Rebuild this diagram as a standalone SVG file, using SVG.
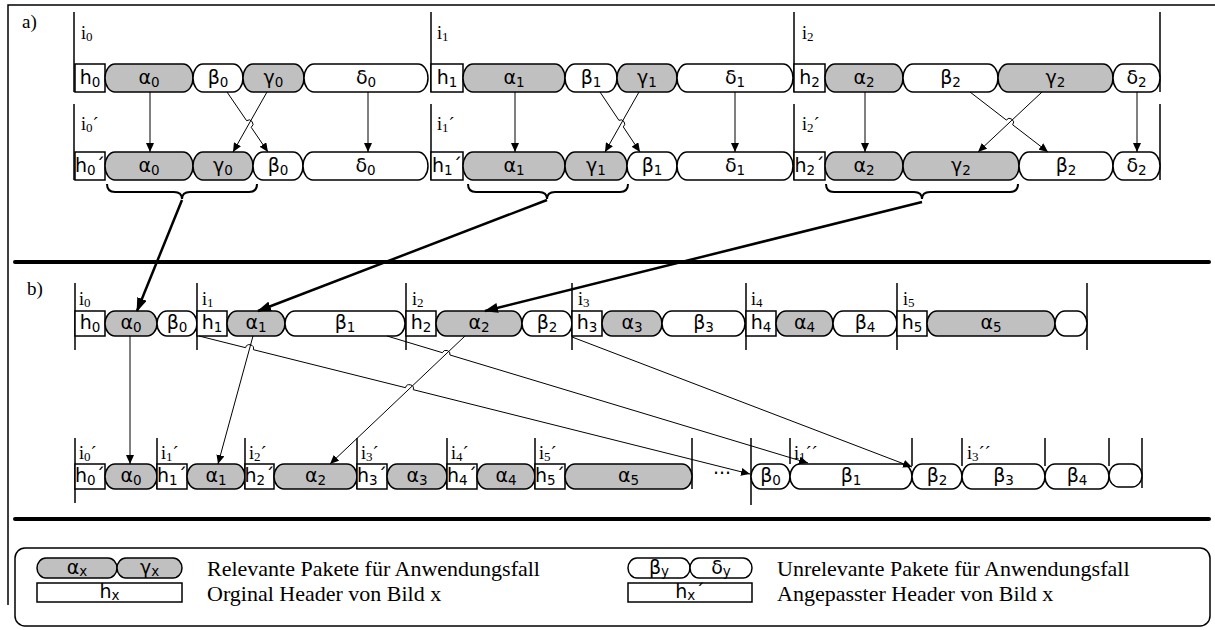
<svg xmlns="http://www.w3.org/2000/svg" width="1215" height="630" viewBox="0 0 1215 630">
  <style>
    .pr { fill: #c0c0c0; stroke: #000; stroke-width: 1.5; }
    .pu { fill: #fff; stroke: #000; stroke-width: 1.5; }
    .hd { fill: #fff; stroke: #000; stroke-width: 1.5; }
    .vl { stroke: #000; stroke-width: 1.5; fill: none; }
    .lbl { font-family: "DejaVu Sans", sans-serif; font-size: 19px; text-anchor: middle; fill: #000; }
    .sub { font-size: 13.5px; }
    .il { font-family: "Liberation Serif", serif; font-size: 18px; fill: #000; }
    .isub { font-size: 13px; }
    .sec { font-family: "Liberation Serif", serif; font-size: 19px; fill: #000; }
    .leg { font-family: "Liberation Serif", serif; font-size: 22px; fill: #000; }
    .cn { stroke: #000; stroke-width: 1; fill: none; }
    .tk { stroke: #000; stroke-width: 2.5; fill: none; }
    .br { stroke: #000; stroke-width: 2; fill: none; }
    .sep { stroke: #000; stroke-width: 4; stroke-linecap: round; }
  </style>
  <defs>
    <marker id="ah" markerUnits="userSpaceOnUse" markerWidth="9" markerHeight="8" refX="9" refY="4" orient="auto">
      <path d="M0,0 L9,4 L0,8 z" fill="#000"/>
    </marker>
    <marker id="ahk" markerUnits="userSpaceOnUse" markerWidth="14" markerHeight="10" refX="13" refY="5" orient="auto">
      <path d="M0,0 L14,5 L0,10 z" fill="#000"/>
    </marker>
  </defs>

  <rect width="1215" height="630" fill="#fff"/>

  <!-- frame and separators -->
  <g id="frame">
    <path class="vl" d="M8,605 V5 H1215" stroke-width="1.2"/>
    <line class="sep" x1="15" y1="262" x2="1209" y2="262"/>
    <line class="sep" x1="15" y1="519" x2="1209" y2="519"/>
    <text class="sec" x="22" y="28">a)</text>
    <text class="sec" x="27" y="295">b)</text>
  </g>

  <!-- part a: image boundaries -->
  <g id="a-bounds">
    <path class="vl" d="M74,12 V92 M431,12 V92 M794,12 V92 M1160,12 V92"/>
    <path class="vl" d="M74,104 V180 M431,104 V180 M794,104 V180 M1160,104 V180"/>
    <text class="il" x="81" y="39">i<tspan class="isub" dy="2">0</tspan></text>
    <text class="il" x="437" y="39">i<tspan class="isub" dy="2">1</tspan></text>
    <text class="il" x="802" y="39">i<tspan class="isub" dy="2">2</tspan></text>
    <text class="il" x="81" y="130">i<tspan class="isub" dy="2">0</tspan><tspan dy="-2">´</tspan></text>
    <text class="il" x="437" y="130">i<tspan class="isub" dy="2">1</tspan><tspan dy="-2">´</tspan></text>
    <text class="il" x="802" y="130">i<tspan class="isub" dy="2">2</tspan><tspan dy="-2">´</tspan></text>
  </g>

  <!-- part a, original stream -->
  <g id="a1-h0"><rect class="hd" x="75" y="64" width="30" height="28"/><text class="lbl" x="90" y="84">h<tspan class="sub" dy="3">0</tspan></text></g>
  <g id="a1-alpha0"><rect class="pr" x="105" y="64" width="88" height="28" rx="10" ry="14"/><text class="lbl" x="149" y="84">α<tspan class="sub" dy="3">0</tspan></text></g>
  <g id="a1-beta0"><rect class="pu" x="193" y="64" width="50" height="28" rx="10" ry="14"/><text class="lbl" x="218" y="84">β<tspan class="sub" dy="3">0</tspan></text></g>
  <g id="a1-gamma0"><rect class="pr" x="243" y="64" width="61" height="28" rx="10" ry="14"/><text class="lbl" x="273.5" y="84">γ<tspan class="sub" dy="3">0</tspan></text></g>
  <g id="a1-delta0"><rect class="pu" x="304" y="64" width="124" height="28" rx="10" ry="14"/><text class="lbl" x="366" y="84">δ<tspan class="sub" dy="3">0</tspan></text></g>
  <g id="a1-h1"><rect class="hd" x="431" y="64" width="32" height="28"/><text class="lbl" x="447" y="84">h<tspan class="sub" dy="3">1</tspan></text></g>
  <g id="a1-alpha1"><rect class="pr" x="463" y="64" width="102" height="28" rx="10" ry="14"/><text class="lbl" x="514" y="84">α<tspan class="sub" dy="3">1</tspan></text></g>
  <g id="a1-beta1"><rect class="pu" x="565" y="64" width="52" height="28" rx="10" ry="14"/><text class="lbl" x="591" y="84">β<tspan class="sub" dy="3">1</tspan></text></g>
  <g id="a1-gamma1"><rect class="pr" x="617" y="64" width="60" height="28" rx="10" ry="14"/><text class="lbl" x="647" y="84">γ<tspan class="sub" dy="3">1</tspan></text></g>
  <g id="a1-delta1"><rect class="pu" x="677" y="64" width="116" height="28" rx="10" ry="14"/><text class="lbl" x="735" y="84">δ<tspan class="sub" dy="3">1</tspan></text></g>
  <g id="a1-h2"><rect class="hd" x="794" y="64" width="31" height="28"/><text class="lbl" x="809.5" y="84">h<tspan class="sub" dy="3">2</tspan></text></g>
  <g id="a1-alpha2"><rect class="pr" x="825" y="64" width="78" height="28" rx="10" ry="14"/><text class="lbl" x="864" y="84">α<tspan class="sub" dy="3">2</tspan></text></g>
  <g id="a1-beta2"><rect class="pu" x="903" y="64" width="95" height="28" rx="10" ry="14"/><text class="lbl" x="950.5" y="84">β<tspan class="sub" dy="3">2</tspan></text></g>
  <g id="a1-gamma2"><rect class="pr" x="998" y="64" width="115" height="28" rx="10" ry="14"/><text class="lbl" x="1055.5" y="84">γ<tspan class="sub" dy="3">2</tspan></text></g>
  <g id="a1-delta2"><rect class="pu" x="1113" y="64" width="47" height="28" rx="10" ry="14"/><text class="lbl" x="1136.5" y="84">δ<tspan class="sub" dy="3">2</tspan></text></g>

  <!-- part a, reordered stream -->
  <g id="a2-h0"><rect class="hd" x="75" y="152" width="30" height="28"/><text class="lbl" x="90" y="172">h<tspan class="sub" dy="3">0</tspan><tspan dy="-3">´</tspan></text></g>
  <g id="a2-alpha0"><rect class="pr" x="105" y="152" width="88" height="28" rx="10" ry="14"/><text class="lbl" x="149" y="172">α<tspan class="sub" dy="3">0</tspan></text></g>
  <g id="a2-gamma0"><rect class="pr" x="193" y="152" width="60" height="28" rx="10" ry="14"/><text class="lbl" x="223" y="172">γ<tspan class="sub" dy="3">0</tspan></text></g>
  <g id="a2-beta0"><rect class="pu" x="253" y="152" width="50" height="28" rx="10" ry="14"/><text class="lbl" x="278" y="172">β<tspan class="sub" dy="3">0</tspan></text></g>
  <g id="a2-delta0"><rect class="pu" x="303" y="152" width="125" height="28" rx="10" ry="14"/><text class="lbl" x="365.5" y="172">δ<tspan class="sub" dy="3">0</tspan></text></g>
  <g id="a2-h1"><rect class="hd" x="431" y="152" width="32" height="28"/><text class="lbl" x="447" y="172">h<tspan class="sub" dy="3">1</tspan><tspan dy="-3">´</tspan></text></g>
  <g id="a2-alpha1"><rect class="pr" x="463" y="152" width="102" height="28" rx="10" ry="14"/><text class="lbl" x="514" y="172">α<tspan class="sub" dy="3">1</tspan></text></g>
  <g id="a2-gamma1"><rect class="pr" x="565" y="152" width="62" height="28" rx="10" ry="14"/><text class="lbl" x="596" y="172">γ<tspan class="sub" dy="3">1</tspan></text></g>
  <g id="a2-beta1"><rect class="pu" x="627" y="152" width="50" height="28" rx="10" ry="14"/><text class="lbl" x="652" y="172">β<tspan class="sub" dy="3">1</tspan></text></g>
  <g id="a2-delta1"><rect class="pu" x="677" y="152" width="116" height="28" rx="10" ry="14"/><text class="lbl" x="735" y="172">δ<tspan class="sub" dy="3">1</tspan></text></g>
  <g id="a2-h2"><rect class="hd" x="794" y="152" width="31" height="28"/><text class="lbl" x="809.5" y="172">h<tspan class="sub" dy="3">2</tspan><tspan dy="-3">´</tspan></text></g>
  <g id="a2-alpha2"><rect class="pr" x="825" y="152" width="78" height="28" rx="10" ry="14"/><text class="lbl" x="864" y="172">α<tspan class="sub" dy="3">2</tspan></text></g>
  <g id="a2-gamma2"><rect class="pr" x="903" y="152" width="116" height="28" rx="10" ry="14"/><text class="lbl" x="961" y="172">γ<tspan class="sub" dy="3">2</tspan></text></g>
  <g id="a2-beta2"><rect class="pu" x="1019" y="152" width="94" height="28" rx="10" ry="14"/><text class="lbl" x="1066" y="172">β<tspan class="sub" dy="3">2</tspan></text></g>
  <g id="a2-delta2"><rect class="pu" x="1113" y="152" width="47" height="28" rx="10" ry="14"/><text class="lbl" x="1136.5" y="172">δ<tspan class="sub" dy="3">2</tspan></text></g>

  <!-- braces grouping the relevant packets -->
  <g id="braces">
    <path class="br" d="M107,184 q0,8 8,8 H174 q8,0 8,7 q0,-7 8,-7 H249 q8,0 8,-8"/>
    <path class="br" d="M468,184 q0,8 8,8 H539 q8,0 8,7 q0,-7 8,-7 H620 q8,0 8,-8"/>
    <path class="br" d="M826,184 q0,8 8,8 H914 q8,0 8,7 q0,-7 8,-7 H1010 q8,0 8,-8"/>
  </g>

  <!-- part b: image boundaries -->
  <g id="b-bounds">
    <path class="vl" d="M75,283 V350 M197,283 V350 M406,283 V350 M572,283 V350 M746,283 V350 M897,283 V350 M1087,283 V350"/>
    <text class="il" x="79" y="305">i<tspan class="isub" dy="2">0</tspan></text>
    <text class="il" x="202" y="305">i<tspan class="isub" dy="2">1</tspan></text>
    <text class="il" x="412" y="305">i<tspan class="isub" dy="2">2</tspan></text>
    <text class="il" x="578" y="305">i<tspan class="isub" dy="2">3</tspan></text>
    <text class="il" x="751" y="305">i<tspan class="isub" dy="2">4</tspan></text>
    <text class="il" x="903" y="305">i<tspan class="isub" dy="2">5</tspan></text>

    <path class="vl" d="M75,438 V503 M157,438 V489 M245,438 V489 M357,438 V489 M447,438 V489 M535,438 V489 M692,438 V489"/>
    <path class="vl" d="M751,438 V505 M790,438 V464 M912,438 V466 M962,438 V466 M1045,438 V466 M1109,438 V466 M1142,438 V488"/>
    <text class="il" x="79" y="459">i<tspan class="isub" dy="2">0</tspan><tspan dy="-2">´</tspan></text>
    <text class="il" x="161" y="459">i<tspan class="isub" dy="2">1</tspan><tspan dy="-2">´</tspan></text>
    <text class="il" x="249" y="459">i<tspan class="isub" dy="2">2</tspan><tspan dy="-2">´</tspan></text>
    <text class="il" x="361" y="459">i<tspan class="isub" dy="2">3</tspan><tspan dy="-2">´</tspan></text>
    <text class="il" x="451" y="459">i<tspan class="isub" dy="2">4</tspan><tspan dy="-2">´</tspan></text>
    <text class="il" x="539" y="459">i<tspan class="isub" dy="2">5</tspan><tspan dy="-2">´</tspan></text>
    <text class="il" x="794" y="459">i<tspan class="isub" dy="2">1</tspan><tspan dy="-2">´´</tspan></text>
    <text class="il" x="967" y="459">i<tspan class="isub" dy="2">3</tspan><tspan dy="-2">´´</tspan></text>
    <text class="lbl" x="722" y="480" font-size="13">···</text>
  </g>

  <!-- part b, received stream -->
  <g id="b1-h0"><rect class="hd" x="75" y="311" width="30" height="25"/><text class="lbl" x="90" y="329">h<tspan class="sub" dy="3">0</tspan></text></g>
  <g id="b1-alpha0"><rect class="pr" x="105" y="311" width="52" height="25" rx="10" ry="12.5"/><text class="lbl" x="131" y="329">α<tspan class="sub" dy="3">0</tspan></text></g>
  <g id="b1-beta0"><rect class="pu" x="157" y="311" width="40" height="25" rx="10" ry="12.5"/><text class="lbl" x="177" y="329">β<tspan class="sub" dy="3">0</tspan></text></g>
  <g id="b1-h1"><rect class="hd" x="197" y="311" width="30" height="25"/><text class="lbl" x="212" y="329">h<tspan class="sub" dy="3">1</tspan></text></g>
  <g id="b1-alpha1"><rect class="pr" x="227" y="311" width="58" height="25" rx="10" ry="12.5"/><text class="lbl" x="256" y="329">α<tspan class="sub" dy="3">1</tspan></text></g>
  <g id="b1-beta1"><rect class="pu" x="285" y="311" width="120" height="25" rx="10" ry="12.5"/><text class="lbl" x="345" y="329">β<tspan class="sub" dy="3">1</tspan></text></g>
  <g id="b1-h2"><rect class="hd" x="406" y="311" width="30" height="25"/><text class="lbl" x="421" y="329">h<tspan class="sub" dy="3">2</tspan></text></g>
  <g id="b1-alpha2"><rect class="pr" x="436" y="311" width="86" height="25" rx="10" ry="12.5"/><text class="lbl" x="479" y="329">α<tspan class="sub" dy="3">2</tspan></text></g>
  <g id="b1-beta2"><rect class="pu" x="522" y="311" width="50" height="25" rx="10" ry="12.5"/><text class="lbl" x="547" y="329">β<tspan class="sub" dy="3">2</tspan></text></g>
  <g id="b1-h3"><rect class="hd" x="572" y="311" width="30" height="25"/><text class="lbl" x="587" y="329">h<tspan class="sub" dy="3">3</tspan></text></g>
  <g id="b1-alpha3"><rect class="pr" x="602" y="311" width="60" height="25" rx="10" ry="12.5"/><text class="lbl" x="632" y="329">α<tspan class="sub" dy="3">3</tspan></text></g>
  <g id="b1-beta3"><rect class="pu" x="662" y="311" width="83" height="25" rx="10" ry="12.5"/><text class="lbl" x="703.5" y="329">β<tspan class="sub" dy="3">3</tspan></text></g>
  <g id="b1-h4"><rect class="hd" x="746" y="311" width="30" height="25"/><text class="lbl" x="761" y="329">h<tspan class="sub" dy="3">4</tspan></text></g>
  <g id="b1-alpha4"><rect class="pr" x="776" y="311" width="57" height="25" rx="10" ry="12.5"/><text class="lbl" x="804.5" y="329">α<tspan class="sub" dy="3">4</tspan></text></g>
  <g id="b1-beta4"><rect class="pu" x="833" y="311" width="64" height="25" rx="10" ry="12.5"/><text class="lbl" x="865" y="329">β<tspan class="sub" dy="3">4</tspan></text></g>
  <g id="b1-h5"><rect class="hd" x="897" y="311" width="30" height="25"/><text class="lbl" x="912" y="329">h<tspan class="sub" dy="3">5</tspan></text></g>
  <g id="b1-alpha5"><rect class="pr" x="927" y="311" width="128" height="25" rx="10" ry="12.5"/><text class="lbl" x="991" y="329">α<tspan class="sub" dy="3">5</tspan></text></g>
  <g id="b1-rest"><rect class="pu" x="1055" y="311" width="32" height="25" rx="10" ry="12.5"/></g>

  <!-- part b, rebuilt stream -->
  <g id="b2-h0"><rect class="hd" x="75" y="464" width="30" height="25"/><text class="lbl" x="90" y="482">h<tspan class="sub" dy="3">0</tspan><tspan dy="-3">´</tspan></text></g>
  <g id="b2-alpha0"><rect class="pr" x="105" y="464" width="52" height="25" rx="10" ry="12.5"/><text class="lbl" x="131" y="482">α<tspan class="sub" dy="3">0</tspan></text></g>
  <g id="b2-h1"><rect class="hd" x="157" y="464" width="30" height="25"/><text class="lbl" x="172" y="482">h<tspan class="sub" dy="3">1</tspan><tspan dy="-3">´</tspan></text></g>
  <g id="b2-alpha1"><rect class="pr" x="187" y="464" width="58" height="25" rx="10" ry="12.5"/><text class="lbl" x="216" y="482">α<tspan class="sub" dy="3">1</tspan></text></g>
  <g id="b2-h2"><rect class="hd" x="245" y="464" width="29" height="25"/><text class="lbl" x="259.5" y="482">h<tspan class="sub" dy="3">2</tspan><tspan dy="-3">´</tspan></text></g>
  <g id="b2-alpha2"><rect class="pr" x="274" y="464" width="83" height="25" rx="10" ry="12.5"/><text class="lbl" x="315.5" y="482">α<tspan class="sub" dy="3">2</tspan></text></g>
  <g id="b2-h3"><rect class="hd" x="357" y="464" width="30" height="25"/><text class="lbl" x="372" y="482">h<tspan class="sub" dy="3">3</tspan><tspan dy="-3">´</tspan></text></g>
  <g id="b2-alpha3"><rect class="pr" x="387" y="464" width="60" height="25" rx="10" ry="12.5"/><text class="lbl" x="417" y="482">α<tspan class="sub" dy="3">3</tspan></text></g>
  <g id="b2-h4"><rect class="hd" x="447" y="464" width="30" height="25"/><text class="lbl" x="462" y="482">h<tspan class="sub" dy="3">4</tspan><tspan dy="-3">´</tspan></text></g>
  <g id="b2-alpha4"><rect class="pr" x="477" y="464" width="58" height="25" rx="10" ry="12.5"/><text class="lbl" x="506" y="482">α<tspan class="sub" dy="3">4</tspan></text></g>
  <g id="b2-h5"><rect class="hd" x="535" y="464" width="30" height="25"/><text class="lbl" x="550" y="482">h<tspan class="sub" dy="3">5</tspan><tspan dy="-3">´</tspan></text></g>
  <g id="b2-alpha5"><rect class="pr" x="565" y="464" width="127" height="25" rx="10" ry="12.5"/><text class="lbl" x="628.5" y="482">α<tspan class="sub" dy="3">5</tspan></text></g>
  <g id="b2-beta0"><rect class="pu" x="751" y="464" width="39" height="25" rx="10" ry="12.5"/><text class="lbl" x="770.5" y="482">β<tspan class="sub" dy="3">0</tspan></text></g>
  <g id="b2-beta1"><rect class="pu" x="790" y="464" width="122" height="25" rx="10" ry="12.5"/><text class="lbl" x="851" y="482">β<tspan class="sub" dy="3">1</tspan></text></g>
  <g id="b2-beta2"><rect class="pu" x="912" y="464" width="50" height="25" rx="10" ry="12.5"/><text class="lbl" x="937" y="482">β<tspan class="sub" dy="3">2</tspan></text></g>
  <g id="b2-beta3"><rect class="pu" x="962" y="464" width="83" height="25" rx="10" ry="12.5"/><text class="lbl" x="1003.5" y="482">β<tspan class="sub" dy="3">3</tspan></text></g>
  <g id="b2-beta4"><rect class="pu" x="1045" y="464" width="64" height="25" rx="10" ry="12.5"/><text class="lbl" x="1077" y="482">β<tspan class="sub" dy="3">4</tspan></text></g>
  <g id="b2-rest"><rect class="pu" x="1109" y="464" width="33" height="23" rx="10" ry="11.5"/></g>

  <!-- connectors -->
  <g id="connectors">
    <!-- part a: packet reordering -->
    <path class="cn" marker-end="url(#ah)" d="M150,92 V152"/>
    <path class="cn" marker-end="url(#ah)" d="M267,92 L233,152"/>
    <path class="cn" marker-end="url(#ah)" d="M227,92 L246.6,120.7 A4,4 0 0 1 251.2,127.3 L268,152"/>
    <path class="cn" marker-end="url(#ah)" d="M368,92 V152"/>

    <path class="cn" marker-end="url(#ah)" d="M515,92 V152"/>
    <path class="cn" marker-end="url(#ah)" d="M639,92 L605,152"/>
    <path class="cn" marker-end="url(#ah)" d="M600,92 L618.9,120.3 A4,4 0 0 1 623.3,126.9 L640,152"/>
    <path class="cn" marker-end="url(#ah)" d="M735,92 V152"/>

    <path class="cn" marker-end="url(#ah)" d="M865,92 V152"/>
    <path class="cn" marker-end="url(#ah)" d="M1042,92 L978,152"/>
    <path class="cn" marker-end="url(#ah)" d="M970,92 L1006.3,120 A4,4 0 0 1 1012.7,124.8 L1048,152"/>
    <path class="cn" marker-end="url(#ah)" d="M1137,92 V152"/>

    <!-- relevant groups into part b -->
    <path class="tk" marker-end="url(#ahk)" d="M182,200 L137,311"/>
    <path class="tk" marker-end="url(#ahk)" d="M547,200 L258,311"/>
    <path class="tk" marker-end="url(#ahk)" d="M922,202 L485,311"/>

    <!-- part b: relevant packets forward, the rest behind -->
    <path class="cn" marker-end="url(#ah)" d="M130,336 V464"/>
    <path class="cn" marker-end="url(#ah)" d="M253,336 L218,464"/>
    <path class="cn" marker-end="url(#ah)" d="M465,336 L330,464"/>
    <path class="cn" marker-end="url(#ah)" d="M199,336 L245.6,347.7 A4,4 0 0 1 253.4,349.7 L405.5,387.7 A4,4 0 0 1 413.3,389.7 L750,474"/>
    <path class="cn" marker-end="url(#ah)" d="M387,336 L442.4,352.7 A4,4 0 0 1 450,355 L808,463"/>
    <path class="cn" marker-end="url(#ah)" d="M572,337 L912,467"/>
  </g>

  <!-- legend -->
  <g id="legend">
    <rect x="15" y="548" width="1195" height="78" rx="10" fill="#fff" stroke="#000" stroke-width="1.5"/>
    <g id="leg-relevant">
      <rect class="pr" x="37" y="558" width="80" height="20" rx="9" ry="10"/>
      <text class="lbl" x="77" y="574" font-size="15">α<tspan class="sub" dy="2">x</tspan></text>
      <rect class="pr" x="117" y="558" width="65" height="20" rx="9" ry="10"/>
      <text class="lbl" x="149.5" y="574" font-size="15">γ<tspan class="sub" dy="2">x</tspan></text>
      <text class="leg" x="207" y="576">Relevante Pakete für Anwendungsfall</text>
    </g>
    <g id="leg-header">
      <rect class="hd" x="37" y="583" width="145" height="19"/>
      <text class="lbl" x="109.5" y="598" font-size="15">h<tspan class="sub" dy="2">x</tspan></text>
      <text class="leg" x="207" y="601">Orginal Header von Bild x</text>
    </g>
    <g id="leg-irrelevant">
      <rect class="pu" x="628" y="558" width="62" height="20" rx="9" ry="10"/>
      <text class="lbl" x="659" y="574" font-size="15">β<tspan class="sub" dy="2">y</tspan></text>
      <rect class="pu" x="690" y="558" width="62" height="20" rx="9" ry="10"/>
      <text class="lbl" x="721" y="574" font-size="15">δ<tspan class="sub" dy="2">y</tspan></text>
      <text class="leg" x="777" y="576">Unrelevante Pakete für Anwendungsfall</text>
    </g>
    <g id="leg-adapted">
      <rect class="hd" x="628" y="583" width="124" height="19"/>
      <text class="lbl" x="690" y="598" font-size="15">h<tspan class="sub" dy="2">x</tspan><tspan dy="-2">´</tspan></text>
      <text class="leg" x="777" y="601">Angepasster Header von Bild x</text>
    </g>
  </g>
</svg>
